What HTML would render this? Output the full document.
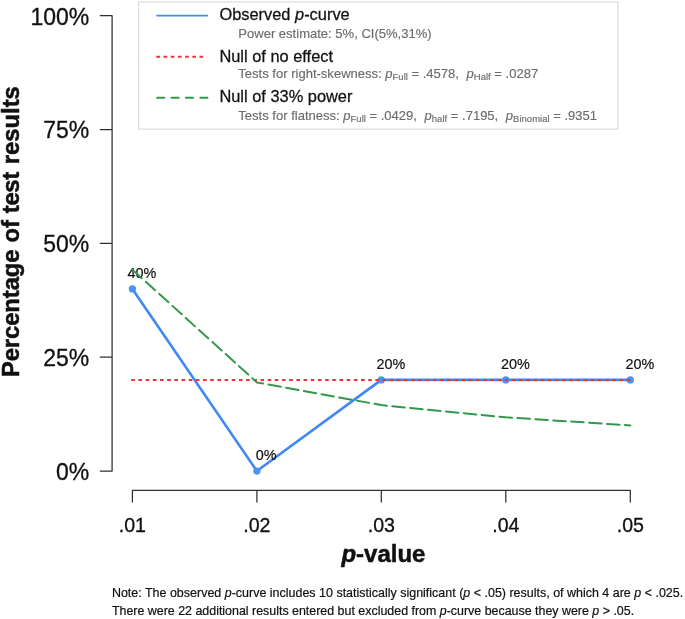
<!DOCTYPE html>
<html><head><meta charset="utf-8">
<style>
html,body{margin:0;padding:0;background:#fff;}
svg{display:block;font-family:"Liberation Sans",Arial,Helvetica,sans-serif;}
.ax{stroke:#303030;stroke-width:1.25;fill:none;stroke-linejoin:round;stroke-linecap:round;}
.yl{font-size:23px;fill:#111;text-anchor:end;stroke:#111;stroke-width:0.3px;}
.xl{font-size:19.6px;fill:#111;text-anchor:middle;stroke:#111;stroke-width:0.3px;}
.pl{font-size:14.4px;fill:#111;stroke:#111;stroke-width:0.2px;}
.lg{font-size:16.4px;fill:#111;stroke:#111;stroke-width:0.25px;}
.ls{font-size:13.04px;fill:#6c6c6c;stroke:#6c6c6c;stroke-width:0.15px;}
.sub{font-size:9.5px;}
.nt{fill:#111;stroke:#111;stroke-width:0.2px;}
.tt{font-weight:bold;fill:#111;stroke:#111;stroke-width:0.5px;}
</style></head><body>
<svg width="685" height="619" viewBox="0 0 685 619">
<rect width="685" height="619" fill="#fff"/>
<!-- y axis -->
<path class="ax" d="M100.3 15.7H112.1V471H100.3M100.3 129.5H112.1M100.3 243.35H112.1M100.3 357.2H112.1"/>
<text class="yl" transform="translate(89.3 24.5) scale(1 1.045)">100%</text>
<text class="yl" transform="translate(89.3 138.3) scale(1 1.045)">75%</text>
<text class="yl" transform="translate(89.3 252.15) scale(1 1.045)">50%</text>
<text class="yl" transform="translate(89.3 366.0) scale(1 1.045)">25%</text>
<text class="yl" transform="translate(89.3 479.8) scale(1 1.045)">0%</text>
<text class="tt" transform="translate(19.1 377.1) rotate(-90) scale(1 1.02)" font-size="23.8" letter-spacing="-0.07">Percentage</text>
<text class="tt" transform="translate(19.1 242.6) rotate(-90) scale(1 1.02)" font-size="23.8" letter-spacing="0">of</text>
<text class="tt" transform="translate(19.1 213.2) rotate(-90) scale(1 1.02)" font-size="23.8" letter-spacing="-0.3">test</text>
<text class="tt" transform="translate(19.1 164.2) rotate(-90) scale(1 1.02)" font-size="23.8" letter-spacing="0">results</text>
<!-- x axis -->
<path class="ax" d="M132.4 502V490.3H630.3V502M256.9 490.3V502M381.3 490.3V502M505.8 490.3V502"/>
<text class="xl" transform="translate(132.4 531.9) scale(1 1.05)">.01</text>
<text class="xl" transform="translate(256.9 531.9) scale(1 1.05)">.02</text>
<text class="xl" transform="translate(381.3 531.9) scale(1 1.05)">.03</text>
<text class="xl" transform="translate(505.8 531.9) scale(1 1.05)">.04</text>
<text class="xl" transform="translate(630.3 531.9) scale(1 1.05)">.05</text>
<text class="tt" transform="translate(383.4 561.8) scale(1 0.99)" font-size="24" text-anchor="middle"><tspan font-style="italic">p</tspan>-value</text>
<!-- legend -->
<rect x="138.6" y="2" width="479.4" height="127.1" fill="#fff" stroke="#dcdcdc" stroke-width="1.2"/>
<path d="M157.1 15.6H207.1" stroke="#4289f4" stroke-width="1.9" stroke-linecap="round"/>
<path d="M156.3 56.7H203.2" stroke="#ea3634" stroke-width="2" stroke-dasharray="3.7 3.5"/>
<path d="M157.1 97.7H207.5" stroke="#33984b" stroke-width="1.95" stroke-dasharray="7.2 7.2" stroke-linecap="round"/>
<text class="lg" transform="translate(219.4 20.3) scale(1 1.045)">Observed <tspan font-style="italic">p</tspan>-curve</text>
<text class="ls" transform="translate(238.3 37.7) scale(1 1.05)">Power estimate: 5%, CI(5%,31%)</text>
<text class="lg" transform="translate(219.4 62.4) scale(1 1.045)">Null of no effect</text>
<text class="ls" transform="translate(238.3 77.85) scale(1 1.0)">Tests for right-skewness: <tspan font-style="italic">p</tspan><tspan class="sub" dy="2.3">Full</tspan><tspan dy="-2.3"> = .4578,  </tspan><tspan font-style="italic" dx="4">p</tspan><tspan class="sub" dy="2.3">Half</tspan><tspan dy="-2.3"> = .0287</tspan></text>
<text class="lg" transform="translate(219.4 102.4) scale(1 1.045)">Null of 33% power</text>
<text class="ls" transform="translate(238.3 119.65) scale(1 1.0)">Tests for flatness: <tspan font-style="italic">p</tspan><tspan class="sub" dy="2.3">Full</tspan><tspan dy="-2.3"> = .0429,  </tspan><tspan font-style="italic" dx="4">p</tspan><tspan class="sub" dy="2.3">half</tspan><tspan dy="-2.3"> = .7195,  </tspan><tspan font-style="italic" dx="4">p</tspan><tspan class="sub" dy="2.3">Binomial</tspan><tspan dy="-2.3"> = .9351</tspan></text>
<!-- data -->
<path d="M132.4 288.9L256.9 471.05L381.3 379.9H630.3" stroke="#3f88f5" stroke-width="2.6" fill="none" stroke-linejoin="round" stroke-linecap="round"/>
<g fill="#4a94f7"><circle cx="132.4" cy="288.9" r="3.65"/><circle cx="256.9" cy="471.05" r="3.65"/><circle cx="381.3" cy="379.9" r="3.65"/><circle cx="505.8" cy="379.9" r="3.65"/><circle cx="630.3" cy="379.9" r="3.65"/></g>
<text class="pl" transform="translate(127.6 278.15) scale(1 1.0)">40%</text>
<text class="pl" transform="translate(255.7 460.0) scale(1 1.0)">0%</text>
<text class="pl" transform="translate(376.4 369.05) scale(1 1.0)">20%</text>
<text class="pl" transform="translate(500.9 369.05) scale(1 1.0)">20%</text>
<text class="pl" transform="translate(625.4 369.05) scale(1 1.0)">20%</text>
<path d="M131.25 380H630.4" stroke="#ea3634" stroke-width="2" stroke-dasharray="3.6 3.58" fill="none"/>
<path d="M132.5 269.7L256.9 382.4L381.3 405.1L505.8 417.3L630.3 425.4" stroke="#33984b" stroke-width="2" stroke-dasharray="12.57 5.39" stroke-linecap="round" stroke-linejoin="round" fill="none"/>
<!-- note -->
<text class="nt" transform="translate(111.9 597.2) scale(1 1.07)" font-size="12.49">Note: The observed <tspan font-style="italic">p</tspan>-curve includes 10 statistically significant (<tspan font-style="italic">p</tspan> &lt; .05) results, of which 4 are <tspan font-style="italic">p</tspan> &lt; .025.</text>
<text class="nt" transform="translate(111.9 614.5) scale(1 1.07)" font-size="12.43">There were 22 additional results entered but excluded from <tspan font-style="italic">p</tspan>-curve because they were <tspan font-style="italic">p</tspan> &gt; .05.</text>
</svg>
</body></html>
